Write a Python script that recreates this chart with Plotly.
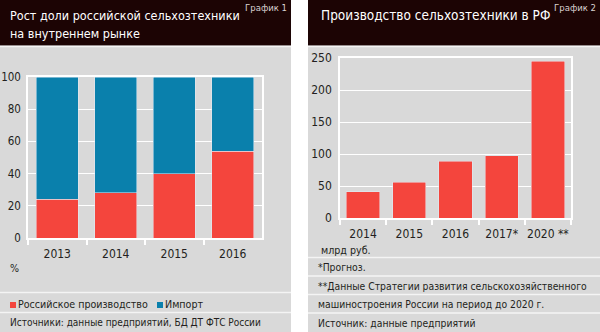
import plotly.graph_objects as go

# ---- data ----
share_years = ["2013", "2014", "2015", "2016"]
russian_share = [24, 28, 40, 54]
import_share = [76, 72, 60, 46]

prod_years = ["2014", "2015", "2016", "2017*", "2020 **"]
production = [41, 56, 89, 97, 245]

share_ticks = [0, 20, 40, 60, 80, 100]
prod_ticks = [0, 50, 100, 150, 200, 250]

# ---- style ----
W, H = 600, 332
RED = "#f4453d"
BLUE = "#0a80ac"
GRAY = "#d9d9d9"
DARK = "#1c0404"
TEXT = "#231f20"
FONT = "DejaVu Sans Condensed, Liberation Sans Narrow, Roboto, sans-serif"
BODY = 10.6


def px(x):
    return x / W


def py(y):
    return 1 - y / H


fig = go.Figure()

fig.add_trace(go.Bar(x=share_years, y=russian_share, marker_color=RED,
                     name="Российское производство", xaxis="x", yaxis="y"))
fig.add_trace(go.Bar(x=share_years, y=import_share, marker_color=BLUE,
                     name="Импорт", xaxis="x", yaxis="y"))
fig.add_trace(go.Bar(x=prod_years, y=production, marker_color=RED,
                     name="Производство", xaxis="x2", yaxis="y2"))

axis_common = dict(
    showline=True, linecolor="white", linewidth=1.5, mirror=True,
    gridcolor="white", gridwidth=1.2, zeroline=False, automargin=False,
    tickfont=dict(family=FONT, size=12, color=TEXT),
    fixedrange=True,
)
xaxis_common = dict(
    axis_common, type="category", showgrid=False, tickangle=0,
    ticks="outside", tickson="boundaries", ticklen=5,
    tickcolor="white", tickwidth=1.5, ticklabelstandoff=4,
)

shapes = []


def rect(x0, y0, x1, y1, color):
    shapes.append(dict(type="rect", xref="paper", yref="paper",
                       x0=px(x0), x1=px(x1), y0=py(y0), y1=py(y1),
                       fillcolor=color, line=dict(width=0), layer="below"))


def hline(x0, x1, y, color="#f4f4f4", width=1.5):
    shapes.append(dict(type="line", xref="paper", yref="paper",
                       x0=px(x0), x1=px(x1), y0=py(y), y1=py(y),
                       line=dict(color=color, width=width), layer="below"))


# panels
rect(0, 0, 291, 332, GRAY)
rect(308, 0, 600, 332, GRAY)
rect(0, 0, 291, 45.5, DARK)
rect(308, 0, 600, 45.5, DARK)
hline(0, 291, 46.5)
hline(308, 600, 46.5)
# footer separators
hline(0, 291, 292.5)
hline(0, 291, 312.5)
for yy in (257.5, 276, 294.5, 313):
    hline(308, 600, yy)

# legend squares
rect(10, 302, 16, 308, RED)
rect(157, 302, 163, 308, BLUE)

annotations = []


def text(x, y, s, size=BODY, color=TEXT, xanchor="left"):
    annotations.append(dict(x=px(x), y=py(y), xref="paper", yref="paper",
                            text=s, showarrow=False, xanchor=xanchor,
                            yanchor="middle",
                            font=dict(family=FONT, size=size, color=color)))


# headers
text(8, 15, "Рост доли российской сельхозтехники", 12.5, "white")
text(8, 34, "на внутреннем рынке", 12.5, "white")
text(289, 8, "График 1", 9.5, "#d8d0d0", "right")
text(319, 15, "Производство сельхозтехники в РФ", 13.5, "white")
text(598, 8, "График 2", 9.5, "#d8d0d0", "right")

# units
text(8, 268, "%", BODY)
text(319, 250, "млрд руб.", BODY)

# legend labels
text(16, 304, "Российское производство", BODY)
text(163, 304, "Импорт", BODY)

# footnotes and sources
text(8, 322.5, "Источники: данные предприятий, БД ДТ ФТС России", 10)
text(316, 267, "*Прогноз.", 10.3)
text(316, 285.5, "**Данные Стратегии развития сельскохозяйственного", 10.3)
text(316, 304, "машиностроения России на период до 2020 г.", 10.3)
text(316, 322.5, "Источник: данные предприятий", 10.3)

fig.update_layout(
    width=W, height=H,
    margin=dict(l=0, r=0, t=0, b=0),
    paper_bgcolor="white",
    plot_bgcolor="rgba(0,0,0,0)",
    barmode="stack",
    bargap=0.28,
    showlegend=False,
    shapes=shapes,
    annotations=annotations,
    xaxis=dict(xaxis_common, domain=[px(28), px(262)], anchor="y"),
    yaxis=dict(axis_common, domain=[py(238), py(77)], anchor="x",
               range=[0, 100], tickvals=share_ticks, ticklabelstandoff=3,
               tickfont=dict(family=FONT, size=11.5, color=TEXT)),
    xaxis2=dict(xaxis_common, domain=[px(340), px(571)], anchor="y2"),
    yaxis2=dict(axis_common, domain=[py(218), py(58)], anchor="x2",
                range=[0, 250], tickvals=prod_ticks, ticklabelstandoff=4),
)

fig.write_html("out.html")
